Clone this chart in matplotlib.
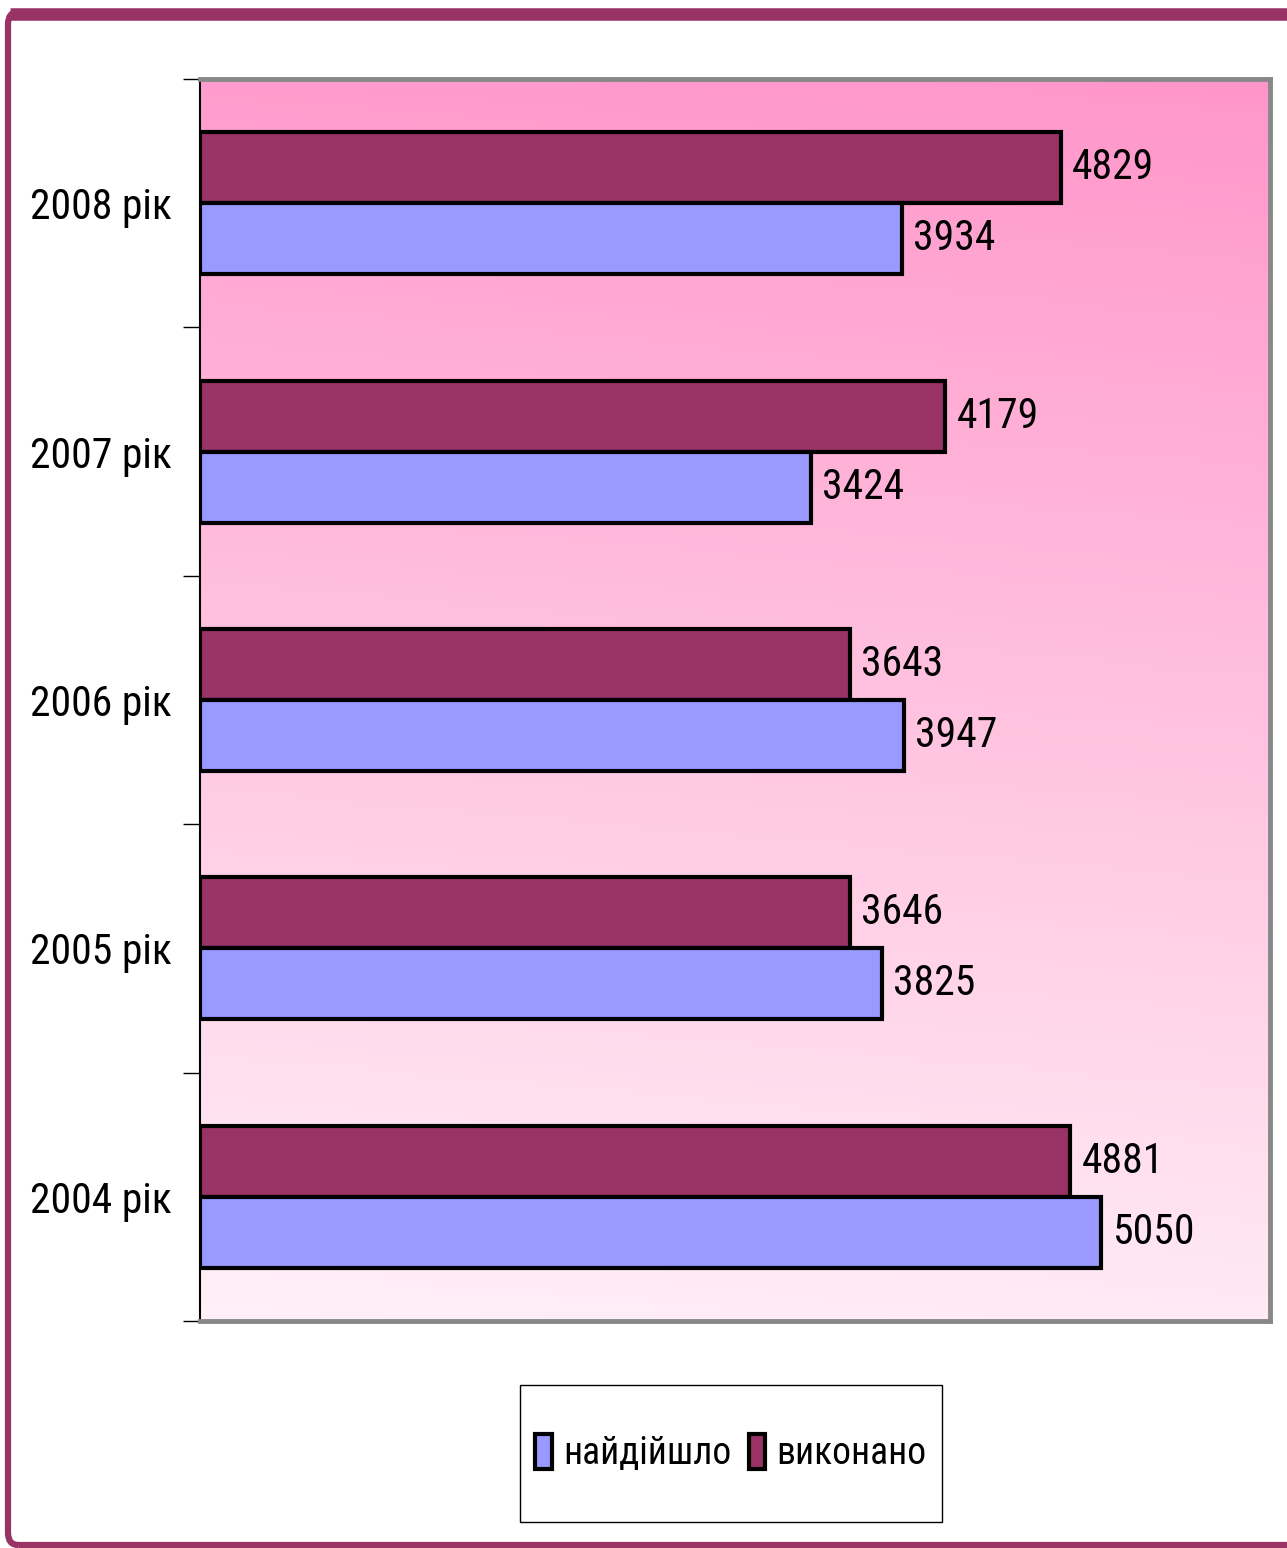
import numpy as np
import matplotlib.pyplot as plt
from matplotlib.patches import FancyBboxPatch, Patch, Rectangle

# Дані
roky = ["2004 рік", "2005 рік", "2006 рік", "2007 рік", "2008 рік"]
naidiishlo = [5050, 3825, 3947, 3424, 3934]
vykonano = [4881, 3646, 3643, 4179, 4829]

kolir_nai = "#9999FF"
kolir_vyk = "#993366"

# Вузький шрифт
plt.rcParams['font.family'] = ['Roboto Condensed', 'Liberation Sans', 'DejaVu Sans']
rozmir = 30

fig = plt.figure(figsize=(12.87, 15.48), dpi=100)
fig.patch.set_facecolor("white")

# Рамка навколо всього малюнка
ramka = FancyBboxPatch((8 / 1287, 3 / 1548), 1.05, (1545 - 12) / 1548,
                       boxstyle="round,pad=0,rounding_size=0.008",
                       transform=fig.transFigure, facecolor="none",
                       edgecolor=kolir_vyk, lw=4.5, zorder=0)
fig.patches.append(ramka)
fig.add_artist(plt.Line2D([10 / 1287, 1.0], [1 - 14 / 1548] * 2, transform=fig.transFigure,
                          color=kolir_vyk, lw=9, solid_capstyle="butt"))

ax = fig.add_axes([200 / 1287, 1 - 1321 / 1548, 1070 / 1287, (1321 - 79) / 1548])

y = np.arange(len(roky))
h = 0.286
xmax = 6000

# Градієнтний фон
grad = np.linspace(0, 1, 256)[:, None] * np.ones((1, 64))
grad = grad * 0.93 + np.linspace(0, 0.07, 64)[None, :]
verh = np.array([255, 150, 202]) / 255
niz = np.array([255, 240, 247]) / 255
img = niz[None, None, :] + (verh - niz)[None, None, :] * grad[:, :, None]
ax.imshow(img, extent=[0, xmax, -0.5, 4.5], origin="lower", aspect="auto", zorder=0)

ax.barh(y + h / 2, vykonano, height=h, color=kolir_vyk, edgecolor="black", lw=3, zorder=2)
ax.barh(y - h / 2, naidiishlo, height=h, color=kolir_nai, edgecolor="black", lw=3, zorder=2)

for i in range(len(roky)):
    ax.annotate(str(vykonano[i]), (vykonano[i], y[i] + h / 2), xytext=(8, 0),
                textcoords="offset points", ha="left", va="center", fontsize=rozmir)
    ax.annotate(str(naidiishlo[i]), (naidiishlo[i], y[i] - h / 2), xytext=(8, 0),
                textcoords="offset points", ha="left", va="center", fontsize=rozmir)

ax.set_xlim(0, xmax)
ax.set_ylim(-0.5, 4.5)
ax.set_xticks([])
ax.set_yticks(np.arange(-0.5, 5, 1))
ax.set_yticklabels([])
ax.tick_params(axis="y", which="major", length=12, width=1, direction="out")
ax.set_yticks(y, minor=True)
ax.set_yticklabels(roky, minor=True, fontsize=rozmir)
ax.tick_params(axis="y", which="minor", length=0, pad=20)

ax.spines["left"].set_color("black")
ax.spines["left"].set_linewidth(1.5)
for s in ["top", "right", "bottom"]:
    ax.spines[s].set_color("#888888")
    ax.spines[s].set_linewidth(3.5)

# Легенда
fig.patches.append(Rectangle((520 / 1287, 1 - 1522 / 1548), 422 / 1287, 137 / 1548,
                             transform=fig.transFigure, facecolor="white",
                             edgecolor="black", lw=1, zorder=1))
ruchky = [Patch(facecolor=kolir_nai, edgecolor="black", lw=3, label="найдійшло"),
          Patch(facecolor=kolir_vyk, edgecolor="black", lw=3, label="виконано")]
leg = fig.legend(handles=ruchky, loc="center", bbox_to_anchor=(731 / 1287, 1 - 1453 / 1548),
                 fontsize=27, frameon=False, ncol=2, handlelength=0.45,
                 handleheight=1.05, handletextpad=0.3, columnspacing=0.45,
                 borderpad=0.2, borderaxespad=0)
leg.set_zorder(3)

plt.savefig("out.png", dpi=100)
